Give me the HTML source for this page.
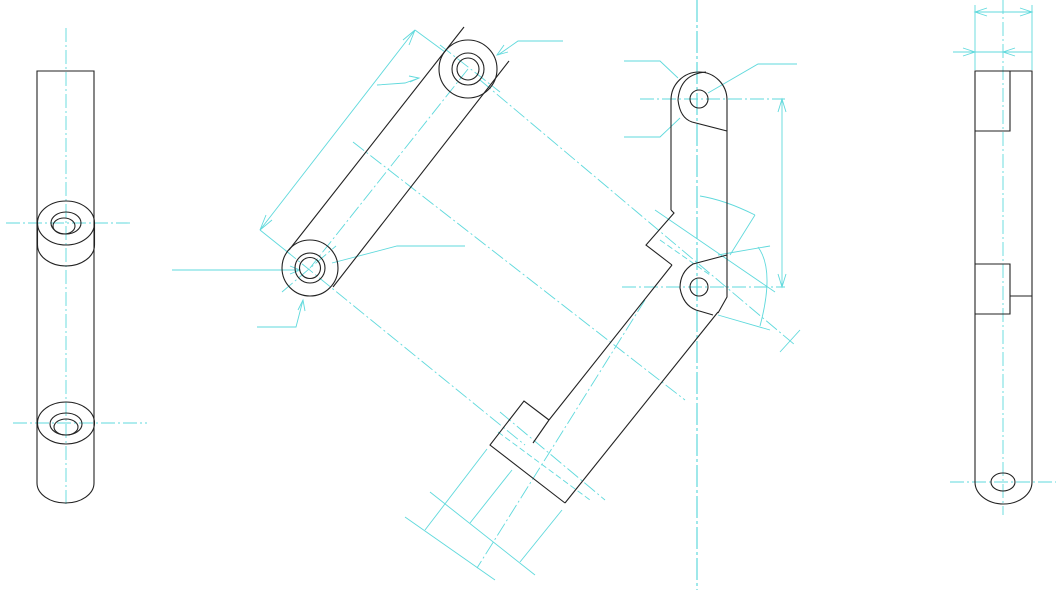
<!DOCTYPE html>
<html><head><meta charset="utf-8"><style>html,body{margin:0;padding:0;background:#fff;}svg{display:block}</style></head>
<body>
<svg width="1056" height="590" viewBox="0 0 1056 590" xmlns="http://www.w3.org/2000/svg">
<g fill="none" stroke="#5fd9dc" stroke-width="0.9">
 <line x1="66" y1="28" x2="66" y2="505" stroke-dasharray="14 3 2 3"/>
 <line x1="6" y1="223" x2="130" y2="223" stroke-dasharray="14 3 2 3"/>
 <line x1="13" y1="423" x2="147" y2="423" stroke-dasharray="14 3 2 3"/>
 <line x1="468" y1="69" x2="310" y2="268" stroke-dasharray="14 3 2 3"/>
 <line x1="440" y1="45" x2="500" y2="92" stroke-dasharray="14 3 2 3"/>
 <line x1="285" y1="250" x2="525" y2="445" stroke-dasharray="14 3 2 3"/>
 <line x1="282" y1="292" x2="336" y2="246" stroke-dasharray="14 3 2 3"/>
 <line x1="353" y1="142" x2="685" y2="400" stroke-dasharray="14 3 2 3"/>
 <line x1="480" y1="80" x2="795" y2="345" stroke-dasharray="14 3 2 3"/>
 <line x1="415" y1="30" x2="445" y2="52"/>
 <line x1="260" y1="230" x2="290" y2="254"/>
 <line x1="415" y1="30" x2="260" y2="230"/>
 <polyline points="409,45 415,30 403,40"/>
 <polyline points="266,215 260,230 272,220"/>
 <polyline points="377,85 405,83 419,78"/><polyline points="409,76 419,78 410,82"/>
 <polyline points="563,41 518,41 498,55"/><polyline points="504,45 497,55 508,52"/>
 <polyline points="172,270 298,270"/><polyline points="290,266 300,270 290,274"/>
 <polyline points="465,246 397,246 332,263"/>
 <polyline points="257,327 296,327 303,300"/><polyline points="298,310 303,300 305,311"/>
 <line x1="697" y1="0" x2="697" y2="590" stroke-width="1.2" stroke-dasharray="22 3 3 3"/>
 <line x1="640" y1="99" x2="785" y2="99" stroke-dasharray="14 3 2 3"/>
 <line x1="622" y1="287" x2="785" y2="287" stroke-dasharray="14 3 2 3"/>
 <line x1="782" y1="99" x2="782" y2="287"/><polyline points="778,112 782,99 786,112"/><polyline points="778,274 782,287 786,274"/>
 <polyline points="624,61 660,61 678,78"/>
 <polyline points="624,137 660,137 680,118"/>
 <polyline points="797,64 758,64 708,93"/>
 <path d="M700,196 Q725,200 755,215"/>
 <line x1="755" y1="215" x2="730" y2="255"/>
 <path d="M758,247 Q775,270 760,326"/>
 <line x1="718" y1="255" x2="770" y2="246"/>
 <line x1="718" y1="315" x2="770" y2="330"/>
 <line x1="800" y1="330" x2="780" y2="352"/>
 <line x1="655" y1="210" x2="775" y2="292"/>
 <line x1="660" y1="240" x2="710" y2="275" stroke-dasharray="6 3"/>
 <line x1="645" y1="300" x2="477" y2="568" stroke-dasharray="14 3 2 3"/>
 <line x1="500" y1="412" x2="605" y2="500" stroke-dasharray="14 3 2 3"/>
 <line x1="498" y1="432" x2="590" y2="500" stroke-dasharray="6 3"/>
 <line x1="487" y1="449" x2="425" y2="530"/>
 <line x1="512" y1="470" x2="470" y2="523"/>
 <line x1="562" y1="510" x2="520" y2="562"/>
 <line x1="405" y1="517" x2="495" y2="580"/>
 <line x1="430" y1="492" x2="535" y2="575"/>
 <line x1="1003" y1="0" x2="1003" y2="515" stroke-dasharray="14 3 2 3"/>
 <line x1="950" y1="482" x2="1056" y2="482" stroke-dasharray="14 3 2 3"/>
 <line x1="975" y1="5" x2="975" y2="70"/><line x1="1032" y1="5" x2="1032" y2="70"/>
 <line x1="975" y1="12" x2="1032" y2="12"/>
 <polyline points="987,8 975,12 987,16"/><polyline points="1020,8 1032,12 1020,16"/>
 <line x1="953" y1="52" x2="1032" y2="52"/>
 <polyline points="963,48 975,52 963,56"/><polyline points="1015,48 1003,52 1015,56"/>
</g>
<g fill="none" stroke="#222" stroke-width="1.1">
 <path d="M37,483 V71 H94 V483"/>
 <path d="M37,483 A28.5,20 0 0 0 94,483"/>
 <ellipse cx="66" cy="223" rx="28.5" ry="22"/>
 <path d="M37.5,223 V245 A28.5,21 0 0 0 94.5,245 V223"/>
 <ellipse cx="66" cy="223" rx="15" ry="11"/>
 <ellipse cx="64" cy="226" rx="11" ry="8"/>
 <ellipse cx="66" cy="423" rx="28.5" ry="21"/>
 <ellipse cx="66" cy="424" rx="16" ry="11"/>
 <ellipse cx="66" cy="427" rx="12" ry="8"/>
 <circle cx="468" cy="69" r="29"/>
 <circle cx="468" cy="69" r="16"/>
 <circle cx="468" cy="69" r="11"/>
 <circle cx="310" cy="268" r="28"/>
 <circle cx="310" cy="268" r="15"/>
 <circle cx="310" cy="268" r="10.5"/>
 <line x1="289" y1="250" x2="464" y2="27"/>
 <line x1="333" y1="287" x2="509" y2="61"/>
 <path d="M671,210 V100 A28,28 0 0 1 727,100 V297 L718,313"/>
 <path d="M706,72 Q680,74 678,100 Q680,118 692,122 L727,131"/>
 <circle cx="699" cy="99" r="9"/>
 <circle cx="699" cy="287" r="9"/>
 <path d="M727,255 L693,264 Q680,272 680,288 Q683,305 696,310 L713,315"/>
 <polyline points="671,210 674,213 646,245 672,265"/>
 <line x1="672" y1="265" x2="549" y2="420"/>
 <line x1="718" y1="312" x2="565" y2="503"/>
 <polyline points="549,420 533,443"/>
 <polyline points="549,420 524,401 490,445 565,503"/>
 <path d="M975,482 V71 H1032 V482"/>
 <path d="M975,482 A28.5,22 0 0 0 1032,482"/>
 <polyline points="975,131 1010,131 1010,71"/>
 <polyline points="975,264 1010,264 1010,314 975,314"/>
 <line x1="1010" y1="296" x2="1032" y2="296"/>
 <ellipse cx="1003" cy="482" rx="12" ry="9"/>
</g>
</svg>
</body></html>
